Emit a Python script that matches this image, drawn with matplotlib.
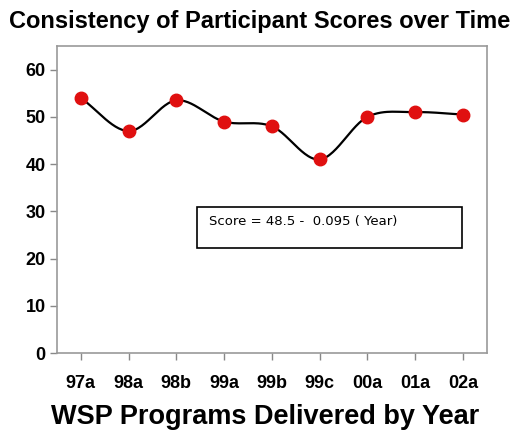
import numpy as np
import matplotlib
matplotlib.use("Agg")
import matplotlib.pyplot as plt
from matplotlib.patches import Rectangle

plt.rcParams["font.family"] = ["Liberation Sans", "DejaVu Sans"]

labels = ["97a", "98a", "98b", "99a", "99b", "99c", "00a", "01a", "02a"]
scores = [54, 47, 53.5, 49, 48, 41, 50, 51, 50.5]
equation = "Score = 48.5 -  0.095 ( Year)"


def smooth(xs, ys, n=30):
    # Catmull-Rom pass through the points, like a spreadsheet "smoothed line"
    xs = np.asarray(xs, float)
    ys = np.asarray(ys, float)
    px = np.concatenate([[2 * xs[0] - xs[1]], xs, [2 * xs[-1] - xs[-2]]])
    py = np.concatenate([[2 * ys[0] - ys[1]], ys, [2 * ys[-1] - ys[-2]]])
    outx, outy = [], []
    t = np.linspace(0, 1, n)
    for i in range(1, len(px) - 2):
        for p, out in ((px, outx), (py, outy)):
            p0, p1, p2, p3 = p[i - 1], p[i], p[i + 1], p[i + 2]
            out.extend(0.5 * ((2 * p1) + (-p0 + p2) * t
                              + (2 * p0 - 5 * p1 + 4 * p2 - p3) * t ** 2
                              + (-p0 + 3 * p1 - 3 * p2 + p3) * t ** 3))
    return outx, outy


x = np.arange(len(labels))

fig = plt.figure(figsize=(5.13, 4.36), dpi=100)
ax = fig.add_axes([0.111, 0.19, 0.838, 0.7045])

sx, sy = smooth(x, scores)
ax.plot(sx, sy, color="black", lw=1.6, zorder=2)
ax.plot(x, scores, "o", color="#e01010", ms=9, mec="#e01010", zorder=3)

ax.set_xlim(-0.5, len(labels) - 0.5)
ax.set_ylim(0, 65)
ax.set_yticks(range(0, 61, 10))
ax.set_xticks(x)
ax.set_xticklabels(labels)
for lab in ax.get_xticklabels() + ax.get_yticklabels():
    lab.set_fontweight("bold")
    lab.set_fontsize(13)
ax.tick_params(color="#888888", length=5, width=1, direction="out")
ax.tick_params(axis="x", pad=11)
ax.tick_params(axis="y", pad=3)
for s in ax.spines.values():
    s.set_color("#999999")
    s.set_linewidth(1.2)

ax.add_patch(Rectangle((0.326, 0.342), 0.616, 0.134, transform=ax.transAxes,
                       fill=False, ec="black", lw=1.2))
ax.text(0.353, 0.428, equation, transform=ax.transAxes, fontsize=9.5,
        va="center", ha="left", family="DejaVu Sans")

fig.text(0.507, 0.95, "Consistency of Participant Scores over Time",
         ha="center", va="center", fontsize=17, fontweight="bold")
ax.set_xlabel("WSP Programs Delivered by Year", fontsize=19.5,
              fontweight="bold", labelpad=10)
ax.xaxis.set_label_coords(0.484, -0.166)

fig.savefig("out.png", dpi=100)
